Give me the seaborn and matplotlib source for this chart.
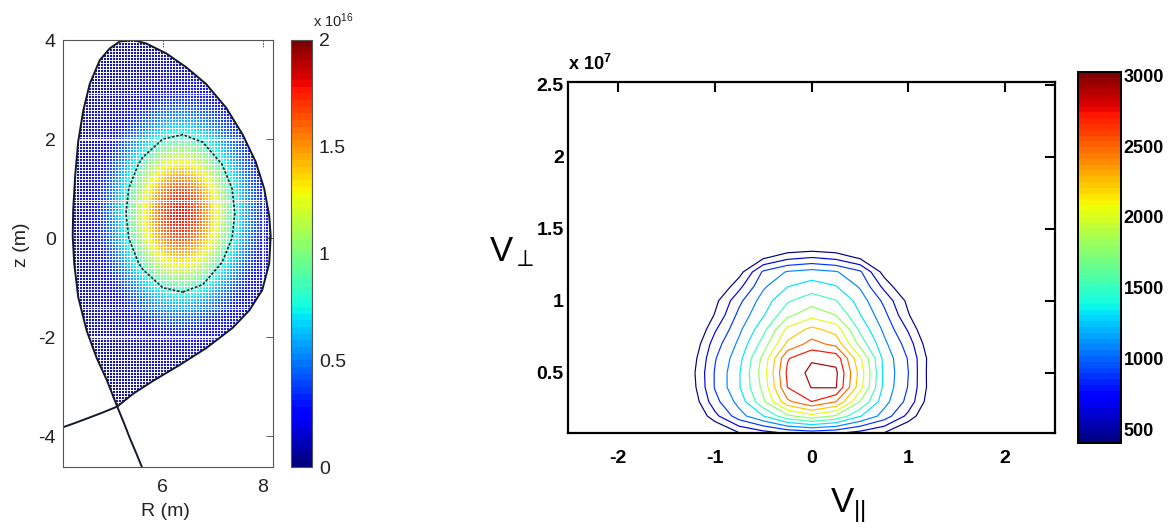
import numpy as np
import matplotlib
matplotlib.use("Agg")
import matplotlib.pyplot as plt
import seaborn as sns
from matplotlib import font_manager
from matplotlib.patches import Polygon
from matplotlib.ticker import MultipleLocator
from matplotlib.colors import Normalize
from matplotlib.cm import ScalarMappable

# ---------------- Left panel data (density, units of 1e16) ----------------
R_nodes = [4.0, 4.4, 4.8, 5.2, 5.6, 6.0, 6.4, 6.8, 7.2, 7.6, 8.0, 8.4]
z_nodes = [-3.5, -3.0, -2.5, -2.0, -1.5, -1.0, -0.5, 0.0, 0.5, 1.0, 1.5, 2.0, 2.5, 3.0, 3.5, 4.0]
density = [
    [0.02, 0.02, 0.02, 0.02, 0.02, 0.03, 0.03, 0.03, 0.02, 0.02, 0.02, 0.02],
    [0.02, 0.02, 0.02, 0.03, 0.04, 0.04, 0.05, 0.04, 0.04, 0.03, 0.02, 0.02],
    [0.02, 0.02, 0.03, 0.05, 0.08, 0.10, 0.10, 0.09, 0.07, 0.05, 0.03, 0.02],
    [0.02, 0.03, 0.06, 0.10, 0.16, 0.22, 0.24, 0.21, 0.15, 0.09, 0.05, 0.03],
    [0.03, 0.05, 0.10, 0.20, 0.33, 0.46, 0.50, 0.43, 0.30, 0.17, 0.08, 0.04],
    [0.03, 0.07, 0.17, 0.35, 0.59, 0.82, 0.89, 0.77, 0.53, 0.29, 0.14, 0.06],
    [0.04, 0.10, 0.25, 0.52, 0.90, 1.25, 1.36, 1.18, 0.80, 0.44, 0.20, 0.08],
    [0.05, 0.12, 0.31, 0.67, 1.17, 1.61, 1.76, 1.52, 1.04, 0.57, 0.25, 0.10],
    [0.05, 0.13, 0.34, 0.73, 1.27, 1.76, 1.92, 1.65, 1.13, 0.62, 0.27, 0.10],
    [0.05, 0.12, 0.31, 0.67, 1.17, 1.61, 1.76, 1.52, 1.04, 0.57, 0.25, 0.10],
    [0.04, 0.10, 0.25, 0.52, 0.90, 1.25, 1.36, 1.18, 0.80, 0.44, 0.20, 0.08],
    [0.03, 0.07, 0.17, 0.35, 0.59, 0.82, 0.89, 0.77, 0.53, 0.29, 0.14, 0.06],
    [0.03, 0.05, 0.10, 0.20, 0.33, 0.46, 0.50, 0.43, 0.30, 0.17, 0.08, 0.04],
    [0.02, 0.03, 0.06, 0.10, 0.16, 0.22, 0.24, 0.21, 0.15, 0.09, 0.05, 0.03],
    [0.02, 0.02, 0.03, 0.05, 0.08, 0.10, 0.10, 0.09, 0.07, 0.05, 0.03, 0.02],
    [0.02, 0.02, 0.02, 0.03, 0.04, 0.04, 0.05, 0.04, 0.04, 0.03, 0.02, 0.02],
]
density_contour_level = [0.82]
# last closed flux surface (R, z) in m
bnd_R = [5.09, 5.41, 5.81, 6.34, 6.87, 7.40, 7.73, 7.99, 8.13, 8.16, 8.13, 8.03,
         7.86, 7.60, 7.27, 6.87, 6.47, 6.07, 5.67, 5.41, 5.14, 4.94, 4.74, 4.54,
         4.41, 4.31, 4.25, 4.21, 4.20, 4.23, 4.31, 4.48, 4.68, 4.88, 5.09]
bnd_z = [-3.40, -3.14, -2.88, -2.56, -2.22, -1.81, -1.46, -1.05, -0.51, 0.04, 0.45, 1.00,
         1.54, 2.09, 2.63, 3.11, 3.45, 3.73, 3.93, 4.00, 3.97, 3.83, 3.59, 3.11,
         2.57, 1.95, 1.27, 0.58, 0.04, -0.51, -1.19, -1.87, -2.42, -2.86, -3.40]
# divertor legs
leg1_R = [5.09, 4.80, 4.54, 4.25, 4.00]
leg1_z = [-3.40, -3.52, -3.62, -3.73, -3.82]
leg2_R = [5.09, 5.22, 5.34, 5.47, 5.60]
leg2_z = [-3.40, -3.72, -4.03, -4.34, -4.66]
R_ticks = [6, 8]
z_ticks = [-4, -2, 0, 2, 4]
density_ticks = [0, 0.5, 1, 1.5, 2]
density_tick_labels = ["0", "0.5", "1", "1.5", "2"]

# ---------------- Right panel data (distribution function) ----------------
v_par = [-1.5, -1.25, -1.0, -0.75, -0.5, -0.25, 0.0, 0.25, 0.5, 0.75, 1.0, 1.25, 1.5]
v_perp = [0.08, 0.2, 0.3, 0.4, 0.5, 0.6, 0.7, 0.8, 0.9, 1.0, 1.1, 1.2, 1.3, 1.4, 1.5]
f_vals = [
    [0, 0, 60, 380, 520, 640, 700, 650, 530, 380, 60, 0, 0],
    [0, 60, 560, 993, 1317, 1724, 1933, 1750, 1340, 993, 560, 60, 0],
    [0, 197, 781, 1177, 1737, 2421, 2700, 2480, 1780, 1177, 781, 197, 0],
    [0, 270, 880, 1300, 1850, 2705, 2940, 2950, 2100, 1249, 845, 250, 0],
    [0, 300, 880, 1300, 1900, 2749, 3000, 2980, 2150, 1267, 860, 240, 0],
    [0, 255, 840, 1244, 1850, 2681, 2900, 2850, 2050, 1244, 840, 255, 0],
    [0, 168, 749, 1145, 1652, 2293, 2556, 2400, 1700, 1145, 749, 168, 0],
    [0, 40, 600, 1040, 1480, 2076, 2306, 2150, 1500, 1040, 600, 40, 0],
    [0, 0, 420, 930, 1300, 1724, 1933, 1780, 1330, 930, 420, 0, 0],
    [0, 0, 330, 800, 1200, 1522, 1681, 1560, 1220, 800, 330, 0, 0],
    [0, 0, 100, 560, 1050, 1312, 1422, 1330, 1060, 560, 100, 0, 0],
    [0, 0, 0, 300, 900, 1111, 1178, 1111, 900, 300, 0, 0, 0],
    [0, 0, 0, 110, 357, 558, 630, 558, 357, 110, 0, 0, 0],
    [0, 0, 0, 0, 10, 77, 100, 77, 10, 0, 0, 0, 0],
    [0, 0, 0, 0, 0, 0, 0, 0, 0, 0, 0, 0, 0],
]
f_levels = [400, 630, 860, 1090, 1320, 1550, 1780, 2010, 2240, 2470, 2700, 2930]
f_clim = [405, 3025]
f_ticks = [500, 1000, 1500, 2000, 2500, 3000]
vpar_ticks = [-2, -1, 0, 1, 2]
vperp_ticks = [0.5, 1, 1.5, 2, 2.5]
vperp_tick_labels = ["0.5", "1", "1.5", "2", "2.5"]

# ---------------- Style ----------------
sns.set_style("white")
avail = {f.name for f in font_manager.fontManager.ttflist}
SANS = "Liberation Sans" if "Liberation Sans" in avail else "DejaVu Sans"
NARROW = "Liberation Sans Narrow" if "Liberation Sans Narrow" in avail else SANS
plt.rcParams["font.family"] = [SANS, "DejaVu Sans"]
plt.rcParams["mathtext.fontset"] = "custom"
plt.rcParams["mathtext.rm"] = SANS
plt.rcParams["mathtext.it"] = SANS + ":italic"
plt.rcParams["mathtext.bf"] = NARROW + ":bold"
plt.rcParams["axes.unicode_minus"] = False
plt.rcParams["text.color"] = "black"

W, H = 1169, 532
fig = plt.figure(figsize=(W / 100, H / 100), dpi=100)


def box(x0, y0, x1, y1):
    return [x0 / W, 1 - y1 / H, (x1 - x0) / W, (y1 - y0) / H]


ax1 = fig.add_axes(box(62.7, 40, 272.7, 467))
cax1 = fig.add_axes(box(291, 40, 312, 467))
ax2 = fig.add_axes(box(568, 81.7, 1055.4, 433.3))
cax2 = fig.add_axes(box(1078, 71.7, 1121, 443))

jet = matplotlib.colormaps["jet"].resampled(64)

# ---------------- Left panel ----------------
dens = np.array(density)
dR = R_nodes[1] - R_nodes[0]
dz = z_nodes[1] - z_nodes[0]
extent = [R_nodes[0] - dR / 2, R_nodes[-1] + dR / 2, z_nodes[0] - dz / 2, z_nodes[-1] + dz / 2]
norm1 = Normalize(0, 2)
im = ax1.imshow(dens, origin="lower", extent=extent, cmap=jet, norm=norm1,
                interpolation="bicubic", aspect="auto", zorder=1)
poly = Polygon(np.column_stack([bnd_R, bnd_z]), closed=True, transform=ax1.transData,
               facecolor="none", edgecolor="none")
ax1.add_patch(poly)
im.set_clip_path(poly)

ax1.contour(R_nodes, z_nodes, dens, levels=density_contour_level, colors="#17263a",
            linewidths=1.2, linestyles=[(0, (1.6, 1.0))], zorder=4)

line_kw = dict(sort=False, estimator=None, color="#151a2a", lw=1.4, ax=ax1, zorder=4)
sns.lineplot(x=bnd_R, y=bnd_z, **line_kw)
sns.lineplot(x=leg1_R, y=leg1_z, **line_kw)
sns.lineplot(x=leg2_R, y=leg2_z, **line_kw)

ax1.set_xlim(4.0, 8.2)
ax1.set_ylim(-4.62, 4.0)
ax1.set_xticks(R_ticks)
ax1.set_yticks(z_ticks)
ax1.set_xticklabels([str(t) for t in R_ticks])
ax1.set_yticklabels([str(t) for t in z_ticks])
ax1.xaxis.set_minor_locator(MultipleLocator(0.06))
ax1.yaxis.set_minor_locator(MultipleLocator(0.06))
ax1.set_axisbelow(False)
ax1.grid(True, which="both", color="white", lw=0.8, alpha=0.95)
ax1.tick_params(which="major", direction="in", length=5, width=0.7, colors="#555",
                top=True, right=True, labelsize=14, labelcolor="#222", pad=5)
ax1.tick_params(axis="x", which="major", pad=9)
ax1.tick_params(which="minor", length=0)
ax1.set_xlabel("")
ax1.set_ylabel("")
for s in ax1.spines.values():
    s.set_zorder(6)
    s.set_color("#555")
    s.set_linewidth(0.8)

fig.text(165 / W, 1 - 512 / H, "R (m)", fontsize=14, ha="center", va="center", color="#222")
fig.text(22 / W, 1 - 245 / H, "z (m)", fontsize=14, ha="center", va="center", rotation=90, color="#222")

cb1 = fig.colorbar(ScalarMappable(norm=norm1, cmap=jet), cax=cax1, ticks=density_ticks)
cb1.set_ticklabels(density_tick_labels)
cax1.tick_params(direction="in", length=3, width=0.6, colors="#555", labelsize=14,
                 labelcolor="#222", pad=5, left=True, right=True)
cb1.outline.set_edgecolor("#555")
cb1.outline.set_linewidth(0.8)
fig.text(313 / W, 1 - 27 / H, r"x $\mathregular{10^{16}}$", fontsize=10.5, ha="left",
         va="baseline", color="#222")

# ---------------- Right panel ----------------
norm2 = Normalize(*f_clim)
ax2.contour(v_par, v_perp, np.array(f_vals), levels=f_levels, cmap=jet, norm=norm2,
            linewidths=0.85, zorder=2)
ax2.set_xlim(-2.52, 2.52)
ax2.set_ylim(0.08, 2.52)
ax2.set_xticks(vpar_ticks)
ax2.set_xticklabels([str(t) for t in vpar_ticks])
ax2.set_yticks(vperp_ticks)
ax2.set_yticklabels(vperp_tick_labels)
ax2.grid(False)
ax2.tick_params(direction="in", length=7, width=1.5, colors="black", top=True, right=True,
                labelsize=14, labelfontfamily=NARROW)
ax2.tick_params(axis="x", pad=12)
ax2.tick_params(axis="y", pad=3)
for lab in ax2.get_xticklabels() + ax2.get_yticklabels():
    lab.set_fontweight("bold")
for s in ax2.spines.values():
    s.set_color("black")
    s.set_linewidth(1.6)
    s.set_zorder(6)

fig.text(568 / W, 1 - 70 / H, r"$\mathbf{x\ 10^{7}}$", fontsize=13, ha="left", va="baseline")
fig.text(512 / W, 1 - 252 / H, r"$\mathregular{V}_{\perp}$", fontsize=25, ha="center", va="center")
fig.text(848 / W, 1 - 506 / H, r"$\mathregular{V}_{||}$", fontsize=25, ha="center", va="center")

cb2 = fig.colorbar(ScalarMappable(norm=norm2, cmap=jet), cax=cax2, ticks=f_ticks)
cb2.set_ticklabels([str(t) for t in f_ticks])
cax2.tick_params(direction="in", length=4, width=1.0, colors="black", labelsize=13,
                 labelfontfamily=NARROW, pad=2, left=True, right=True)
for lab in cax2.get_yticklabels():
    lab.set_fontweight("bold")
cb2.outline.set_edgecolor("black")
cb2.outline.set_linewidth(1.4)

fig.savefig("out.png", dpi=100)
